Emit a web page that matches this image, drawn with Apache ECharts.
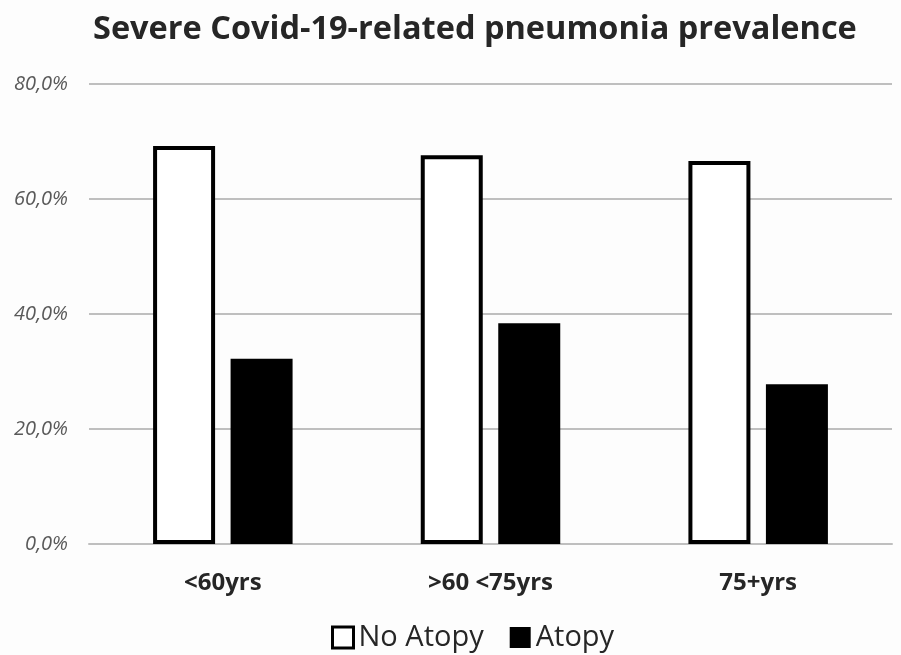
<!DOCTYPE html>
<html>
<head>
<meta charset="utf-8">
<script src="https://cdn.jsdelivr.net/npm/echarts@6/dist/echarts.min.js"></script>
<style>
  html, body { margin: 0; padding: 0; background: #fdfdfd; }
  #chart { width: 901px; height: 655px; }
</style>
</head>
<body>
<div id="chart"></div>
<script>
// 数据
const categories = ['<60yrs', '>60 <75yrs', '75+yrs']
const noAtopy = [69.2, 67.6, 66.6]
const atopy = [32.2, 38.4, 27.8]
const yTicks = [0, 20, 40, 60, 80]

const chart = echarts.init(document.getElementById('chart'))

const font = '"Open Sans", "Noto Sans", sans-serif'

const option = {
  backgroundColor: '#fdfdfd',
  title: {
    text: 'Severe Covid-19-related pneumonia prevalence',
    left: 88,
    top: 8,
    textStyle: { fontFamily: font, fontSize: 32.5, fontWeight: 'bold', color: '#262626' }
  },
  legend: {
    top: 618,
    left: 326,
    itemWidth: 21,
    itemHeight: 21,
    itemGap: 26,
    icon: 'rect',
    textStyle: { fontFamily: font, fontSize: 29, color: '#262626' },
    data: [
      { name: 'No Atopy', itemStyle: { color: '#fff', borderColor: '#000', borderWidth: 3 } },
      { name: 'Atopy', itemStyle: { color: '#000' } }
    ]
  },
  grid: { left: 89, right: 9, top: 84, bottom: 111 },
  xAxis: {
    type: 'category',
    data: categories,
    axisLine: { lineStyle: { color: '#bfbfbf', width: 2 } },
    axisTick: { show: false },
    axisLabel: { fontFamily: font, fontSize: 24, fontWeight: 'bold', color: '#262626', margin: 27 }
  },
  yAxis: {
    type: 'value',
    min: yTicks[0],
    max: yTicks[yTicks.length - 1],
    interval: 20,
    axisLine: { show: false },
    axisTick: { show: false },
    splitLine: { lineStyle: { color: '#bfbfbf', width: 2 } },
    axisLabel: {
      fontFamily: font, fontSize: 20, fontStyle: 'italic', color: '#595959', margin: 21,
      formatter: v => v.toFixed(1).replace('.', ',') + '%'
    }
  },
  series: [
    {
      name: 'No Atopy',
      type: 'bar',
      data: noAtopy,
      barWidth: 62,
      barGap: '25%',
      itemStyle: { color: '#fff', borderColor: '#000', borderWidth: 4 }
    },
    {
      name: 'Atopy',
      type: 'bar',
      data: atopy,
      barWidth: 62,
      itemStyle: { color: '#000' }
    }
  ]
}

chart.setOption(option)
</script>
</body>
</html>
